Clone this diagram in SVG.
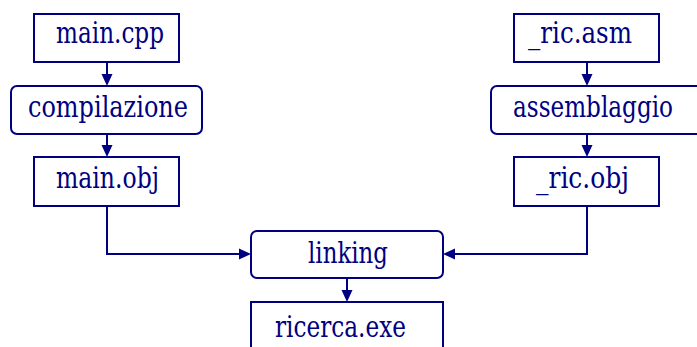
<svg xmlns="http://www.w3.org/2000/svg" width="697" height="347" viewBox="0 0 697 347">
  <defs>
    <!-- arrowhead pointing right, tip at the origin -->
    <path id="ah" d="M0,0 L-12,-5.5 L-12,5.5 Z" fill="#000080"/>
  </defs>
  <style>
    .box { fill: #ffffff; stroke: #000080; stroke-width: 2; }
    .lbl { font-family: "DejaVu Serif", serif; font-size: 29px; fill: #000080; }
    .edge { fill: none; stroke: #000080; stroke-width: 2; }
  </style>
  <rect width="697" height="347" fill="#ffffff"/>

  <g id="connectors">
    <path class="edge" d="M107,62 V76"/>
    <use href="#ah" transform="translate(107,86) rotate(90)"/>
    <path class="edge" d="M107,134 V147"/>
    <use href="#ah" transform="translate(107,157) rotate(90)"/>
    <path class="edge" d="M587,62 V76"/>
    <use href="#ah" transform="translate(587,86) rotate(90)"/>
    <path class="edge" d="M587,134 V147"/>
    <use href="#ah" transform="translate(587,157) rotate(90)"/>
    <path class="edge" d="M107,206 V254 H241"/>
    <use href="#ah" transform="translate(251,254)"/>
    <path class="edge" d="M587,206 V254 H453"/>
    <use href="#ah" transform="translate(443,254) rotate(180)"/>
    <path class="edge" d="M347,278 V292"/>
    <use href="#ah" transform="translate(347,302) rotate(90)"/>
  </g>

  <g id="main-cpp">
    <rect class="box" x="34" y="14" width="145" height="48"/>
    <text class="lbl" x="56" y="43" textLength="108" lengthAdjust="spacingAndGlyphs">main.cpp</text>
  </g>
  <g id="compilazione">
    <rect class="box" x="11" y="86" width="191" height="48" rx="6"/>
    <text class="lbl" x="28" y="117" textLength="160" lengthAdjust="spacingAndGlyphs">compilazione</text>
  </g>
  <g id="main-obj">
    <rect class="box" x="34" y="157" width="145" height="49"/>
    <text class="lbl" x="56" y="188" textLength="103" lengthAdjust="spacingAndGlyphs">main.obj</text>
  </g>

  <g id="ric-asm">
    <rect class="box" x="514" y="14" width="145" height="48"/>
    <text class="lbl" x="528" y="43" textLength="104" lengthAdjust="spacingAndGlyphs">_ric.asm</text>
  </g>
  <g id="assemblaggio">
    <rect class="box" x="491" y="86" width="212" height="48" rx="6"/>
    <text class="lbl" x="513" y="117" textLength="160" lengthAdjust="spacingAndGlyphs">assemblaggio</text>
  </g>
  <g id="ric-obj">
    <rect class="box" x="514" y="157" width="145" height="49"/>
    <text class="lbl" x="536" y="188" textLength="93" lengthAdjust="spacingAndGlyphs">_ric.obj</text>
  </g>

  <g id="linking">
    <rect class="box" x="251" y="231" width="192" height="47" rx="6"/>
    <text class="lbl" x="308" y="263" textLength="80" lengthAdjust="spacingAndGlyphs">linking</text>
  </g>
  <g id="ricerca-exe">
    <rect class="box" x="251" y="302" width="192" height="60"/>
    <text class="lbl" x="275" y="337" textLength="131" lengthAdjust="spacingAndGlyphs">ricerca.exe</text>
  </g>
</svg>
